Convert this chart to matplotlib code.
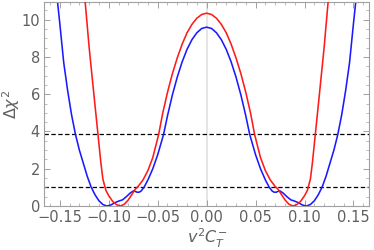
import numpy as np
import matplotlib
matplotlib.use('Agg')
from matplotlib import pyplot as plt
from matplotlib.ticker import MultipleLocator

# red curve
red_x = [-0.127, -0.124, -0.120, -0.115, -0.111, -0.108, -0.106, -0.103, -0.100, -0.096,
         -0.092, -0.088, -0.084, -0.080, -0.076, -0.073, -0.070, -0.065, -0.060, -0.055,
         -0.049, -0.045, -0.040, -0.035, -0.030, -0.025, -0.020, -0.015, -0.010, -0.005, 0.000,
         0.005, 0.010, 0.015, 0.020, 0.025, 0.030, 0.035, 0.040, 0.045, 0.049,
         0.055, 0.060, 0.065, 0.070, 0.073,
         0.076, 0.080, 0.084, 0.088, 0.092, 0.096, 0.100, 0.103, 0.106, 0.108,
         0.111, 0.115, 0.120, 0.124, 0.127]
red_y = [12.8, 10.9, 8.5, 5.9, 3.84, 2.3, 1.45, 0.85, 0.55, 0.25,
         0.07, 0.0, 0.1, 0.33, 0.65, 0.9, 1.05, 1.4, 1.9, 2.6,
         3.84, 4.95, 6.1, 7.1, 7.95, 8.69, 9.3, 9.75, 10.08, 10.28, 10.35,
         10.28, 10.08, 9.75, 9.3, 8.69, 7.95, 7.1, 6.1, 4.95, 3.84,
         2.6, 1.9, 1.4, 1.05, 0.9,
         0.65, 0.33, 0.1, 0.0, 0.07, 0.25, 0.55, 0.85, 1.45, 2.3,
         3.84, 5.9, 8.5, 10.9, 12.8]

# blue curve
blue_x = [-0.156, -0.153, -0.150, -0.146, -0.142, -0.138, -0.134, -0.130, -0.126, -0.122,
          -0.118, -0.114, -0.110, -0.106, -0.102, -0.098, -0.094, -0.090, -0.086, -0.082,
          -0.078, -0.0745, -0.071, -0.069, -0.067, -0.064, -0.060, -0.055, -0.050, -0.044,
          -0.040, -0.035, -0.030, -0.025, -0.020, -0.015, -0.010, -0.005, 0.000,
          0.005, 0.010, 0.015, 0.020, 0.025, 0.030, 0.035, 0.040, 0.044,
          0.050, 0.055, 0.060, 0.064, 0.067,
          0.069, 0.071, 0.0745, 0.078, 0.082, 0.086, 0.090, 0.094, 0.098, 0.102,
          0.106, 0.110, 0.114, 0.118, 0.122, 0.126, 0.130, 0.134, 0.138, 0.142,
          0.146, 0.150, 0.153, 0.156]
blue_y = [12.8, 11.3, 9.8, 7.7, 6.2, 4.9, 3.84, 3.0, 2.3, 1.6,
          1.02, 0.6, 0.28, 0.08, 0.0, 0.05, 0.17, 0.26, 0.33, 0.5,
          0.7, 0.82, 0.74, 0.74, 0.8, 1.0, 1.4, 2.0, 2.75, 3.84,
          4.84, 5.96, 6.92, 7.74, 8.41, 8.93, 9.3, 9.53, 9.6,
          9.53, 9.3, 8.93, 8.41, 7.74, 6.92, 5.96, 4.84, 3.84,
          2.75, 2.0, 1.4, 1.0, 0.8,
          0.74, 0.74, 0.82, 0.7, 0.5, 0.33, 0.26, 0.17, 0.05, 0.0,
          0.08, 0.28, 0.6, 1.02, 1.6, 2.3, 3.0, 3.84, 4.9, 6.2,
          7.7, 9.8, 11.3, 12.8]

levels = [1.0, 3.84]

frame_col = '#a0a0a0'
text_col = '#606060'

fig = plt.figure(figsize=(3.74, 2.5), dpi=100)
ax = fig.add_axes([0.118, 0.176, 0.869, 0.816])

ax.axvline(0, color='#e0e0e0', lw=1.2, zorder=0)
for lv in levels:
    ax.axhline(lv, color='black', lw=0.9, ls=(0, (3.5, 2)), zorder=1)
ax.plot(blue_x, blue_y, color='#1a1aff', lw=1.15, zorder=2)
ax.plot(red_x, red_y, color='#ff1a1a', lw=1.15, zorder=3)

ax.set_xlim(-0.166, 0.166)
ax.set_ylim(0, 10.95)

ax.xaxis.set_major_locator(MultipleLocator(0.05))
ax.xaxis.set_minor_locator(MultipleLocator(0.01))
ax.yaxis.set_major_locator(MultipleLocator(2))
ax.yaxis.set_minor_locator(MultipleLocator(0.5))
ax.set_xticks([-0.15, -0.1, -0.05, 0, 0.05, 0.1, 0.15])
ax.set_xticklabels(['\u22120.15', '\u22120.10', '\u22120.05', '0.00', '0.05', '0.10', '0.15'])

ax.tick_params(which='both', direction='in', top=True, right=True, color=frame_col,
               labelcolor=text_col, labelsize=10.5, pad=3)
ax.tick_params(which='major', length=4, width=0.7)
ax.tick_params(which='minor', length=2, width=0.5)
for s in ax.spines.values():
    s.set_color(frame_col)
    s.set_linewidth(0.8)

ax.set_xlabel(r'$v^2 C_T^{-}$', color=text_col, fontsize=11.5, labelpad=1)
ax.set_ylabel(r'$\Delta\chi^2$', color=text_col, fontsize=11.5)
ax.yaxis.set_label_coords(-0.068, 0.5)

fig.savefig('out.png', dpi=100)
